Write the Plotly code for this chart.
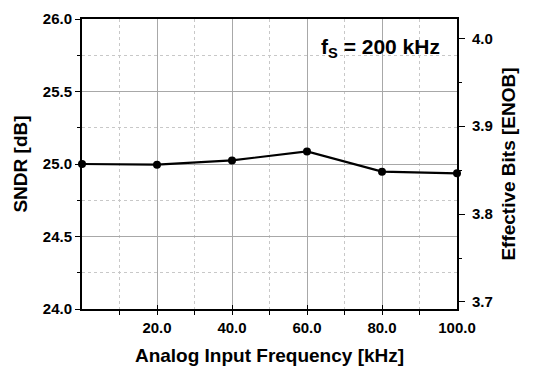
import plotly.graph_objects as go

freq_khz = [0, 20, 40, 60, 80, 100]
sndr_db = [25.0, 24.995, 25.025, 25.087, 24.947, 24.936]
x_ticks = [0, 20, 40, 60, 80, 100]
x_ticktext = ["", "20.0", "40.0", "60.0", "80.0", "100.0"]
y_ticks = [24.0, 24.5, 25.0, 25.5, 26.0]
enob_ticks = [3.7, 3.8, 3.9, 4.0]

FONT = "Liberation Sans, Arial, sans-serif"

fig = go.Figure()
fig.add_trace(go.Scatter(
    x=freq_khz, y=sndr_db, mode="lines+markers",
    line=dict(color="black", width=2.2),
    marker=dict(color="black", size=8),
    cliponaxis=False, showlegend=False,
))
fig.add_trace(go.Scatter(x=[None], y=[None], yaxis="y2", showlegend=False, hoverinfo="skip"))

fig.update_layout(
    width=545, height=369,
    margin=dict(l=82, r=88, t=19, b=60),
    plot_bgcolor="white", paper_bgcolor="white",
    font=dict(family=FONT, color="black"),
    xaxis=dict(
        range=[0, 100], tickvals=x_ticks, ticktext=x_ticktext, automargin=False,
        showline=True, linecolor="black", linewidth=2, mirror=True,
        ticks="inside", ticklen=4, tickcolor="black", ticklabelstandoff=4,
        showgrid=True, gridcolor="#a8a8a8", gridwidth=1,
        minor=dict(dtick=10, tick0=0, showgrid=True, gridcolor="#c8c8c8", griddash="dot",
                   ticks="outside", ticklen=4, tickcolor="black"),
        tickfont=dict(size=15, family=FONT, weight="bold"),
        title=dict(text="Analog Input Frequency [kHz]", font=dict(size=19, family=FONT, weight="bold"), standoff=14),
        zeroline=False,
    ),
    yaxis=dict(
        range=[24, 26], tickvals=y_ticks, tickformat=".1f", automargin=False,
        showline=True, linecolor="black", linewidth=2,
        ticks="outside", ticklen=5, tickcolor="black",
        showgrid=True, gridcolor="#a8a8a8", gridwidth=1,
        minor=dict(dtick=0.25, tick0=24, showgrid=True, gridcolor="#c8c8c8", griddash="dot",
                   ticks="outside", ticklen=3, tickcolor="black"),
        tickfont=dict(size=15, family=FONT, weight="bold"),
        title=dict(text="SNDR [dB]", font=dict(size=19, family=FONT, weight="bold"), standoff=10),
        zeroline=False,
    ),
    yaxis2=dict(
        overlaying="y", side="right", range=[3.692, 4.022], automargin=False,
        tickvals=enob_ticks, tickformat=".1f",
        showline=True, linecolor="black", linewidth=2,
        ticks="outside", ticklen=6, tickcolor="black", ticklabelstandoff=4,
        showgrid=False, zeroline=False,
        minor=dict(dtick=0.05, tick0=3.7, ticks="outside", ticklen=3, tickcolor="black"),
        tickfont=dict(size=15, family=FONT, weight="bold"),
        title=dict(text="Effective Bits [ENOB]", font=dict(size=19, family=FONT, weight="bold"), standoff=10),
    ),
    annotations=[dict(
        x=0.96, y=0.9, xref="paper", yref="paper", xanchor="right", yanchor="middle",
        text="f<sub>S</sub> = 200 kHz", showarrow=False,
        font=dict(size=21, family=FONT, color="black", weight="bold"),
    )],
)

fig.write_html("out.html")
